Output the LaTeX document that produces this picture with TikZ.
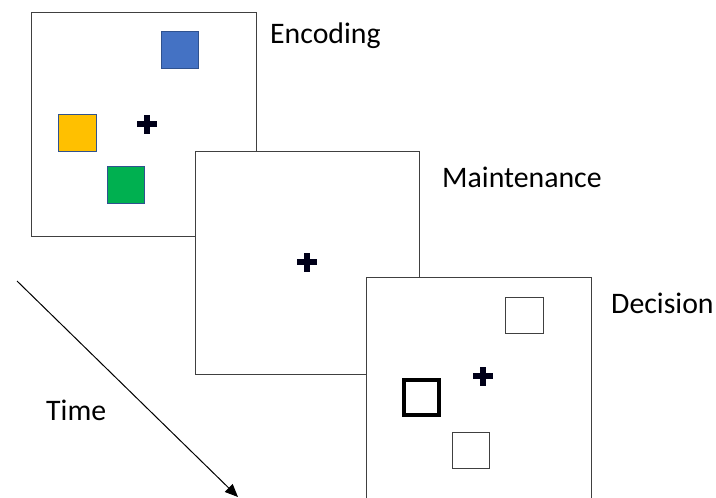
\documentclass[tikz,border=0pt]{standalone}
\usepackage{fontspec}
\setmainfont{Carlito}
\usetikzlibrary{arrows.meta}
\definecolor{sqblue}{HTML}{4472C4}
\definecolor{sqyellow}{HTML}{FFC000}
\definecolor{sqgreen}{HTML}{00B050}
\definecolor{frameline}{HTML}{404040}
\definecolor{sqedge}{HTML}{2F528F}
\begin{document}
\begin{tikzpicture}[x=1pt,y=-1pt,
  framebox/.style={draw=frameline,fill=white,line width=0.9pt},
  colsq/.style={draw=sqedge,line width=0.5pt},
  emptysq/.style={draw=frameline,fill=white,line width=0.9pt},
  thicksq/.style={draw=black,line width=4pt},
  lbl/.style={anchor=west,inner sep=0pt,font=\fontsize{29.8}{34}\selectfont},
  crossbar/.style={fill=black!90!blue}]
\useasboundingbox (0,0) rectangle (716,498);
\clip (0,0) rectangle (716,498);
\newcommand{\fixcross}[2]{%
  \fill[crossbar] (#1-10,#2-3) rectangle (#1+10,#2+3);
  \fill[crossbar] (#1-3,#2-9.5) rectangle (#1+3,#2+9.5);}
% frame 1
\draw[framebox] (31,12) rectangle (256,236);
\fill[sqblue] (161,31) rectangle (198,68);
\fill[sqyellow] (58,114) rectangle (96,151);
\fill[sqgreen] (107,166) rectangle (144,203);
\draw[colsq] (161,31) rectangle (198,68) (58,114) rectangle (96,151) (107,166) rectangle (144,203);
\fixcross{147}{124}
% frame 2
\draw[framebox] (195,151) rectangle (419,374);
\fixcross{307}{262}
% frame 3
\draw[framebox] (366,277) rectangle (591,530);
\draw[emptysq] (505,297) rectangle (543,333);
\draw[emptysq] (452,432) rectangle (489,468);
\draw[thicksq] (404,380) rectangle (439,415);
\fixcross{483}{376}
% labels
\node[lbl] (enc) at (270,36) {Encoding};
\node[lbl] (mai) at (442,177) {Maintenance};
\node[lbl] (dec) at (611,303) {Decision};
\node[lbl] (tim) at (46,410) {Time};
% time arrow
\coordinate (ts) at (17,281);
\coordinate (te) at (238,497);
\draw[line width=1pt,-{Triangle[length=13pt,width=11pt]}] (ts) -- (te);
\end{tikzpicture}
\end{document}
